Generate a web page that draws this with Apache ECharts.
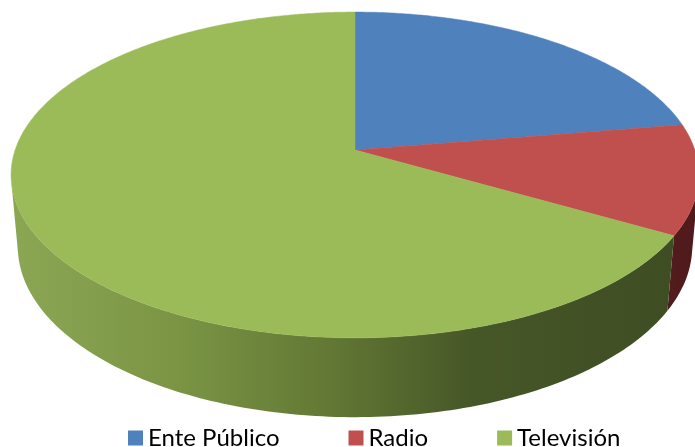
<!DOCTYPE html>
<html>
<head>
<meta charset="utf-8">
<script src="https://cdn.jsdelivr.net/npm/echarts@6/dist/echarts.min.js"></script>
<style>
html,body{margin:0;padding:0;background:#fff;}
#chart{width:695px;height:447px;}
</style>
</head>
<body>
<div id="chart"></div>
<script>
// ---- data ----
var categories = ['Ente Público', 'Radio', 'Televisión'];
var values = [22.4, 10.9, 66.7];
var topColors = ['#4f81bd', '#c0504d', '#9bbb59'];

// ---- 3D pie projection parameters (perspective view) ----
var CX = 355, CY = 150, F = 1961, DIST = 5.77, SA = 0.468, CA = 0.884, H = 0.241;
function project(X, Y, Z) {
  var d = DIST + CA * Y - SA * Z;
  return [CX + F * X / d, CY - F * (SA * Y + CA * Z) / d];
}
function arcPoint(deg, Z) {
  var r = deg * Math.PI / 180;
  return project(Math.sin(r), Math.cos(r), Z);
}
var total = values.reduce(function (s, v) { return s + v; }, 0);
var silDeg = Math.acos(-1 / (DIST * CA)) * 180 / Math.PI;

var wallGradients = [
  null,
  new echarts.graphic.LinearGradient(600, 0, 700, 0, [
    { offset: 0, color: '#5a1f20' }, { offset: 1, color: '#4f1a1c' }], true),
  new echarts.graphic.LinearGradient(10, 0, 690, 0, [
    { offset: 0, color: '#8ca754' },
    { offset: 0.25, color: '#7a9444' },
    { offset: 0.47, color: '#627834' },
    { offset: 0.68, color: '#465727' },
    { offset: 1, color: '#3e4c23' }], true)
];

function makeRender(idx) {
  return function (params, api) {
    var before = 0;
    for (var i = 0; i < idx; i++) before += values[i];
    var start = before / total * 360;
    var end = (before + api.value(0)) / total * 360;
    var children = [];
    // side wall (visible front part)
    var a0 = Math.max(start, silDeg), a1 = Math.min(end, 360 - silDeg);
    if (a1 > a0) {
      var pts = [], t;
      var n = Math.max(2, Math.ceil(a1 - a0));
      for (t = 0; t <= n; t++) pts.push(arcPoint(a0 + (a1 - a0) * t / n, 0));
      for (t = n; t >= 0; t--) pts.push(arcPoint(a0 + (a1 - a0) * t / n, -H));
      children.push({
        type: 'polygon', z2: 1,
        shape: { points: pts },
        style: { fill: wallGradients[idx] || topColors[idx], stroke: null }
      });
    }
    // top face
    var tp = [project(0, 0, 0)];
    var m = Math.max(2, Math.ceil((end - start) * 2));
    for (var k = 0; k <= m; k++) tp.push(arcPoint(start + (end - start) * k / m, 0));
    children.push({
      type: 'polygon', z2: 2,
      shape: { points: tp },
      style: { fill: topColors[idx], stroke: topColors[idx], lineWidth: 0.5 }
    });
    return { type: 'group', children: children };
  };
}

var series = categories.map(function (name, i) {
  return {
    type: 'custom',
    name: name,
    coordinateSystem: 'none',
    itemStyle: { color: topColors[i] },
    data: [[values[i]]],
    renderItem: makeRender(i),
    animation: false,
    silent: true
  };
});

var chart = echarts.init(document.getElementById('chart'), null, { renderer: 'canvas' });
chart.setOption({
  backgroundColor: '#ffffff',
  animation: false,
  legend: {
    data: categories,
    left: 123,
    top: 421,
    icon: 'rect',
    itemWidth: 15,
    itemHeight: 15,
    itemGap: 69,
    textStyle: { fontFamily: 'Lato', fontSize: 24, color: '#000000' }
  },
  series: series
});
</script>
</body>
</html>
